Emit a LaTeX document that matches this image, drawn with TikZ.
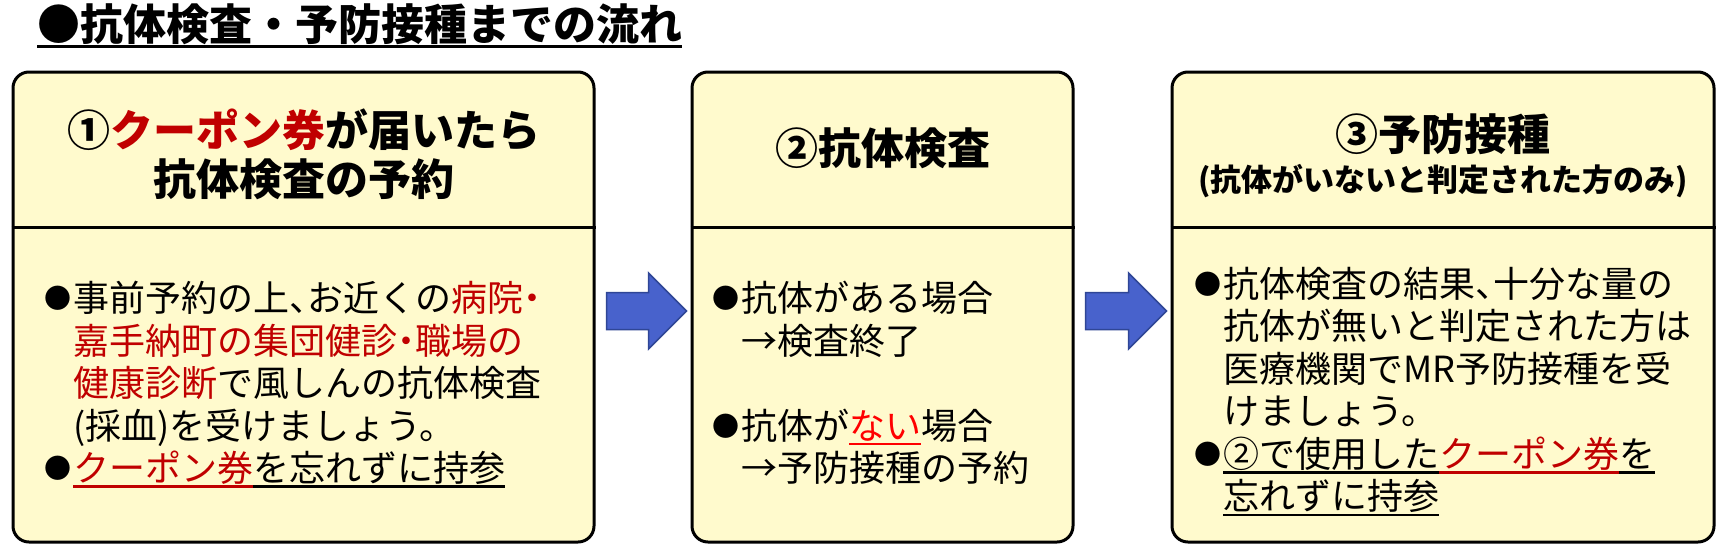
\documentclass[tikz,border=0pt]{standalone}
\usepackage{fontspec}
\setmainfont{Noto Sans CJK JP}
\usetikzlibrary{positioning,calc}

% subrayado que toma el color del texto
\newcommand{\ulbar}[1]{\setbox0\hbox{#1}\rlap{\rule[-0.17em]{\wd0}{0.07em}}\box0}
% viñeta algo menor que el texto
\newcommand{\bala}{\raisebox{3pt}{\fontsize{27}{36}\selectfont ●}\hspace{2pt}}
% puntuación de media anchura
\newcommand{\coma}{\makebox[0.5em][l]{、}}
\newcommand{\punto}{\makebox[0.5em][c]{・}}

\begin{document}
\begin{tikzpicture}[
        x=1pt, y=-1pt, % unidades de pixel, y hacia abajo
        caja/.style={draw=black, line width=3pt, fill=fondo, rounded corners=16pt,
            minimum width=#1, minimum height=470pt, inner sep=0pt},
        titulo/.style={font=\bfseries\fontsize{43}{50}\selectfont, inner sep=0pt},
        cabecera/.style={font=\bfseries\fontsize{43}{49}\selectfont, align=center, inner sep=0pt},
        subcabecera/.style={font=\bfseries\fontsize{31}{36}\selectfont, inner sep=0pt},
        cuerpo/.style={font=\fontsize{36}{42.5}\selectfont, align=left, inner sep=0pt, anchor=north west},
        flecha/.style={fill=flechaazul, draw=flechaborde, line width=1.5pt, line join=miter}
    ]

        % --- CONFIGURACIÓN DE COLORES ---
        \definecolor{fondo}{RGB}{255, 250, 205}
        \definecolor{cred}{RGB}{192, 0, 0}
        \definecolor{bred}{RGB}{255, 0, 0}
        \definecolor{flechaazul}{RGB}{72, 98, 204}
        \definecolor{flechaborde}{RGB}{47, 70, 150}

        \fill[white] (0,0) rectangle (1721,555);
        \useasboundingbox (0,0) rectangle (1721,555);

        % --- TÍTULO ---
        \node[titulo, anchor=west] (tit) at (37,26) {\ulbar{●抗体検査・予防接種までの流れ}};

        % --- CAJAS ---
        \node[caja=581pt] (b1) at (303.5,307) {};
        \node[caja=381pt, right=95pt of b1] (b2) {};
        \node[caja=542pt, right=96pt of b2] (b3) {};

        % líneas divisorias de la cabecera
        \foreach \b in {b1,b2,b3}
            \draw[line width=3pt] (\b.west |- 0,227) -- (\b.east |- 0,227);

        % --- FLECHAS ENTRE CAJAS ---
        \foreach \a/\b in {b1/b2, b2/b3}
            \draw[flecha] let \p1=($(\a.east)+(11,4)$), \p2=($(\b.west)+(-4,4)$) in
                (\x1,\y1+18.5pt) -- (\x2-38pt,\y1+18.5pt) -- (\x2-38pt,\y1+38pt)
                -- (\x2,\y1) -- (\x2-38pt,\y1-38pt) -- (\x2-38pt,\y1-18.5pt)
                -- (\x1,\y1-18.5pt) -- cycle;

        % --- CABECERAS ---
        \node[cabecera] (h1) at (b1 |- 0,154) {①\textcolor{cred}{クーポン券}が届いたら\\抗体検査の予約};
        \node[cabecera] (h2) at (b2 |- 0,148) {②抗体検査};
        \node[cabecera] (h3) at (b3 |- 0,134) {③予防接種};
        \node[subcabecera] (h3s) at (b3 |- 0,181) {(抗体がいないと判定された方のみ)};

        % --- TEXTOS ---
        \node[cuerpo] (t1) at (44,281) {\bala 事前予約の上\coma お近くの\textcolor{cred}{病院\punto}\\
            \hphantom{\bala}\textcolor{cred}{嘉手納町の集団健診\punto 職場の}\\
            \hphantom{\bala}\textcolor{cred}{健康診断}で風しんの抗体検査\\
            \hphantom{\bala}(採血)を受けましょう。\\
            \bala\textcolor{cred}{\ulbar{クーポン券}}\ulbar{を忘れずに持参}};

        \node[cuerpo] (t2) at (712,281) {\bala 抗体がある場合\\
            \hphantom{\bala}→検査終了\\[42.5pt]
            \bala 抗体が\textcolor{bred}{\ulbar{ない}}場合\\
            \hphantom{\bala}→予防接種の予約};

        \node[cuerpo] (t3) at (1194,267) {\bala 抗体検査の結果\coma 十分な量の\\
            \hphantom{\bala}抗体が無いと判定された方は\\
            \hphantom{\bala}医療機関でMR予防接種を受\\
            \hphantom{\bala}けましょう。\\
            \bala\ulbar{②で使用した}\textcolor{cred}{\ulbar{クーポン券}}\ulbar{を}\\
            \hphantom{\bala}\ulbar{忘れずに持参}};

    \end{tikzpicture}
\end{document}
